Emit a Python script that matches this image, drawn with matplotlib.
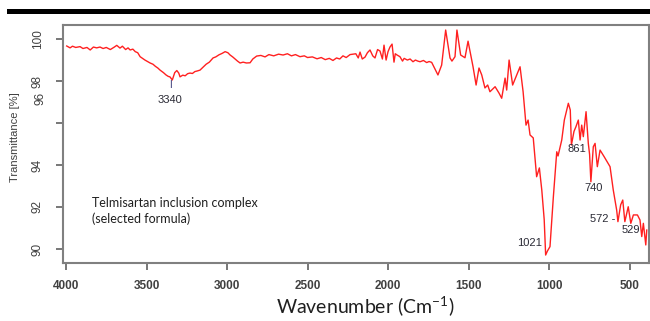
import matplotlib.pyplot as plt
from matplotlib.patches import Rectangle

plt.rcParams['mathtext.fontset'] = 'custom'
plt.rcParams['mathtext.rm'] = 'Lato'

# IR spectrum, by region: wavenumber (cm-1) / transmittance (%)
w_oh = [3996, 3975, 3960, 3940, 3913, 3895, 3870, 3850, 3830, 3810, 3789, 3770, 3750,
        3725, 3700, 3685, 3665, 3650, 3630, 3615, 3602, 3585, 3570, 3555, 3540]
t_oh = [99.67, 99.58, 99.66, 99.60, 99.64, 99.55, 99.60, 99.48, 99.62, 99.58, 99.62, 99.55, 99.60,
        99.50, 99.62, 99.70, 99.57, 99.66, 99.50, 99.58, 99.48, 99.52, 99.40, 99.35, 99.16]

w_nh = [3510, 3478, 3460, 3445, 3430, 3416, 3395, 3379, 3365, 3355, 3340, 3325, 3312, 3300,
        3292, 3275, 3260, 3245, 3230, 3215, 3200, 3185, 3168, 3150, 3130, 3110, 3087, 3070,
        3050, 3030, 3012, 2995, 2981, 2965, 2950, 2935, 2919, 2900, 2880, 2857, 2840]
t_nh = [99.00, 98.86, 98.80, 98.70, 98.62, 98.52, 98.40, 98.29, 98.22, 98.20, 98.05, 98.40, 98.50, 98.38,
        98.20, 98.28, 98.25, 98.35, 98.38, 98.36, 98.45, 98.48, 98.52, 98.65, 98.80, 98.90, 99.10, 99.15,
        99.25, 99.32, 99.40, 99.35, 99.24, 99.15, 99.05, 98.95, 98.86, 98.90, 98.86, 98.87, 99.05]

w_flat = [2816, 2790, 2764, 2740, 2710, 2680, 2652, 2625, 2600, 2575, 2547, 2520, 2500, 2470,
          2441, 2415, 2390, 2365, 2342, 2320, 2300, 2280, 2260, 2236]
t_flat = [99.19, 99.22, 99.15, 99.26, 99.20, 99.28, 99.24, 99.30, 99.20, 99.26, 99.16, 99.20, 99.12, 99.15,
          99.06, 99.12, 99.02, 99.08, 98.98, 99.10, 99.05, 99.20, 99.12, 99.26]

w_noise = [2200, 2185, 2174, 2160, 2143, 2128, 2112, 2095, 2081, 2065, 2050, 2035, 2025, 2012,
           2000, 1988, 1975, 1963, 1955, 1944, 1926, 1910, 1900, 1880, 1863, 1845, 1830, 1815,
           1801, 1780, 1760, 1745, 1729]
t_noise = [99.30, 99.10, 99.38, 99.05, 99.14, 99.35, 99.48, 99.20, 99.10, 99.50, 99.43, 99.05, 99.71, 99.00,
           99.40, 99.62, 99.76, 98.90, 99.30, 99.24, 99.16, 98.95, 99.08, 99.00, 99.05, 98.92, 99.00, 98.95,
           98.92, 98.98, 98.88, 98.93, 98.89]

w_finger = [1690, 1667, 1642, 1615, 1603, 1584, 1572, 1549, 1522, 1503, 1472, 1453, 1435, 1418,
            1398, 1381, 1367, 1335, 1311, 1294, 1273, 1263, 1248, 1226, 1201, 1180, 1161, 1143,
            1130, 1118, 1098, 1077, 1060, 1045, 1030, 1021, 1010, 994, 973, 952, 944, 921,
            905, 880, 868, 861, 845, 833, 818, 807, 797, 787, 770, 756, 748, 740,
            725, 714, 700, 683, 658, 621, 601, 580, 572, 555, 542, 529, 508, 492,
            476, 451, 435, 424, 414, 399, 393]
t_finger = [98.29, 98.76, 100.43, 99.10, 98.95, 99.16, 100.43, 99.24, 99.11, 99.90, 98.68, 97.81, 98.62, 98.29,
            97.67, 97.81, 97.49, 97.73, 97.43, 97.18, 98.14, 97.57, 99.00, 97.81, 98.29, 98.68, 97.49, 95.90,
            96.14, 95.43, 95.29, 93.44, 93.86, 92.81, 91.40, 89.71, 89.90, 90.11, 92.49, 94.63, 94.43, 95.19,
            96.14, 96.94, 96.62, 94.95, 95.60, 95.82, 96.14, 95.19, 95.90, 95.35, 96.54, 95.03, 94.50, 93.20,
            94.87, 95.03, 93.92, 94.71, 94.40, 93.92, 92.81, 91.86, 91.30, 92.10, 92.33, 91.30, 92.01, 91.22,
            91.62, 91.62, 91.38, 90.59, 91.22, 90.19, 90.90]

wavenumber = w_oh + w_nh + w_flat + w_noise + w_finger
transmittance = t_oh + t_nh + t_flat + t_noise + t_finger

peak_labels = ["3340", "1021", "861", "740", "572 -", "529"]

fig = plt.figure(figsize=(6.5, 3.21), dpi=100)
ax = fig.add_axes([63 / 650, 1 - 263 / 321, 586 / 650, 238 / 321])

ax.plot(wavenumber, transmittance, color="#ff2020", lw=1.0)

ax.set_xlim(4019, 379)
ax.set_ylim(89.33, 100.67)

ax.set_xticks([4000, 3500, 3000, 2500, 2000, 1500, 1000, 500])
ax.set_xticklabels(["4000", "3500", "3000", "2500", "2000", "1500", "1000", "500"],
                   family="Liberation Sans", fontsize=8.5, color="#404040", fontweight="bold")
ax.set_yticks([100, 98, 96, 94, 92, 90])
ax.set_yticklabels(["100", "98", "", "94", "92", "90"], rotation=90, va="center",
                   family="Liberation Sans", fontsize=8.5, color="#404040")
ax.tick_params(axis="x", length=5, width=1.2, color="#606060", pad=7)
ax.tick_params(axis="y", length=5, width=1.2, color="#606060", pad=9)
for s in ax.spines.values():
    s.set_color("#808080")
    s.set_linewidth(1.5)

# stray "96" label beside the 98 tick
ax.text(-0.039, 97.19, "96", transform=ax.get_yaxis_transform(), rotation=90,
        ha="center", va="center", family="Liberation Sans", fontsize=8.5, color="#404040")

ax.set_ylabel("Transmittance [%]", family="Liberation Sans", fontsize=8, color="#404040")
ax.yaxis.set_label_coords(-0.073, 0.53)

# peak labels
lab_kw = dict(family="Liberation Sans", fontsize=8, color="#2a2a35", ha="center", va="center")
ax.text(3354, 97.10, peak_labels[0], **lab_kw)
ax.text(3354, 97.80, "I", color="#303070", fontsize=7, ha="center", va="center", family="Liberation Sans")
ax.text(1118, 90.29, peak_labels[1], **lab_kw)
ax.text(828, 94.75, peak_labels[2], **lab_kw)
ax.text(725, 92.89, peak_labels[3], **lab_kw)
ax.text(666, 91.41, peak_labels[4], **lab_kw)
ax.text(492, 90.90, peak_labels[5], **lab_kw)

ax.text(92 / 650, 1 - 211 / 321, "Telmisartan inclusion complex\n(selected formula)",
        transform=fig.transFigure, family="Lato", fontsize=9, color="#202020",
        ha="left", va="center", linespacing=1.35)

fig.text(365 / 650, 1 - 307 / 321, r"Wavenumber (Cm$^{-1}$)", family="Lato",
         fontsize=14, color="#202020", ha="center", va="center")

# thick black bar across the top
fig.add_artist(Rectangle((7 / 650, 1 - 14 / 321), 643 / 650, 5 / 321,
                         transform=fig.transFigure, color="black", lw=0))

fig.savefig("out.png", dpi=100)
